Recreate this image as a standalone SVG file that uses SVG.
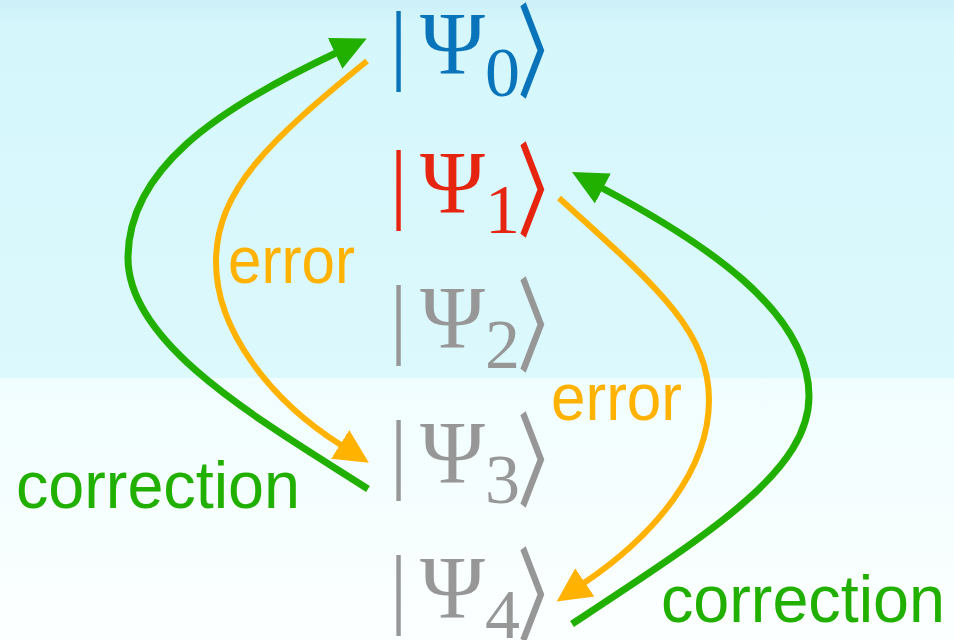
<svg xmlns="http://www.w3.org/2000/svg" width="954" height="640" viewBox="0 0 954 640">
<defs>
<linearGradient id="bgTop" x1="0" y1="0" x2="0" y2="1">
<stop offset="0" stop-color="#cdf0f9"/>
<stop offset="0.07" stop-color="#d5f7fc"/>
<stop offset="1" stop-color="#dcf9fd"/>
</linearGradient>
<linearGradient id="bgBot" x1="0" y1="0" x2="0" y2="1">
<stop offset="0" stop-color="#f0fdfe"/>
<stop offset="1" stop-color="#fcffff"/>
</linearGradient>
<marker id="hG" markerUnits="userSpaceOnUse" markerWidth="36" markerHeight="36" refX="1" refY="17" orient="auto" viewBox="0 0 36 34">
<path d="M0,0 L35,17 L0,34 z" fill="#22b000"/>
</marker>
<marker id="hO" markerUnits="userSpaceOnUse" markerWidth="36" markerHeight="36" refX="1" refY="17" orient="auto" viewBox="0 0 36 34">
<path d="M0,0 L34,17 L0,34 z" fill="#ffb200"/>
</marker>
<style>
.ket{fill:currentColor}
.bar{font-family:"Liberation Serif",serif;font-size:88px;text-anchor:middle}
.psi{font-family:"Liberation Serif",serif;font-size:88px}
.sub{font-family:"Liberation Serif",serif;font-size:70px}
.ang{font-family:"Noto Sans CJK JP","DejaVu Sans",sans-serif;font-size:86px;stroke:currentColor;stroke-width:2.4;stroke-linejoin:miter}
.lbl{font-family:"Liberation Sans",Arial,sans-serif;font-size:66px}
.err{fill:#ffb200}
.cor{fill:#22b000}
.g{fill:none;stroke:#22b000;stroke-width:7}
.o{fill:none;stroke:#ffb200;stroke-width:6}
</style>
</defs>
<rect x="0" y="0" width="954" height="380" fill="url(#bgTop)"/>
<rect x="0" y="378" width="954" height="262" fill="url(#bgBot)"/>

<g id="ket0" class="ket" color="#0a74ba">
<text class="bar" x="398.5" y="73">|</text>
<text class="psi" x="420" y="73">Ψ</text>
<text class="sub" x="485" y="96">0</text>
<text class="ang" x="512" y="85" transform="translate(532.5,52.5) scale(0.7,1.16) translate(-532,-54)">〉</text>
</g>
<g id="ket1" class="ket" color="#e62511" transform="translate(0,139)">
<text class="bar" x="398.5" y="73">|</text>
<text class="psi" x="420" y="73">Ψ</text>
<text class="sub" x="485" y="94">1</text>
<text class="ang" x="512" y="85" transform="translate(532.5,52.5) scale(0.7,1.16) translate(-532,-54)">〉</text>
</g>
<g id="ket2" class="ket" color="#979797" transform="translate(0,274)">
<text class="bar" x="398.5" y="73">|</text>
<text class="psi" x="420" y="73">Ψ</text>
<text class="sub" x="485" y="94">2</text>
<text class="ang" x="512" y="85" transform="translate(532.5,52.5) scale(0.7,1.16) translate(-532,-54)">〉</text>
</g>
<g id="ket3" class="ket" color="#979797" transform="translate(0,409)">
<text class="bar" x="398.5" y="73">|</text>
<text class="psi" x="420" y="73">Ψ</text>
<text class="sub" x="485" y="94">3</text>
<text class="ang" x="512" y="85" transform="translate(532.5,52.5) scale(0.7,1.16) translate(-532,-54)">〉</text>
</g>
<g id="ket4" class="ket" color="#979797" transform="translate(0,544)">
<text class="bar" x="398.5" y="73">|</text>
<text class="psi" x="420" y="73">Ψ</text>
<text class="sub" x="485" y="94">4</text>
<text class="ang" x="512" y="85" transform="translate(532.5,52.5) scale(0.7,1.16) translate(-532,-54)">〉</text>
</g>

<g id="connectors">
<path class="g" d="M368,489 C260,420 128,345 128,258 C128,170 215,110 336,53" marker-end="url(#hG)"/>
<path class="o" d="M367,61 C270,140 216,190 216,262 C216,330 270,400 341,445" marker-end="url(#hO)"/>
<path class="o" d="M559,198 C655,285 709,330 709,400 C709,470 655,535 584,583" marker-end="url(#hO)"/>
<path class="g" d="M572,624 C715,530 809,470 809,396 C809,310 700,240 602,188" marker-end="url(#hG)"/>
</g>

<g id="labels">
<text class="lbl err" x="228" y="283" textLength="127" lengthAdjust="spacingAndGlyphs">error</text>
<text class="lbl err" x="551" y="420" textLength="131" lengthAdjust="spacingAndGlyphs">error</text>
<text class="lbl cor" x="16" y="508" textLength="284" lengthAdjust="spacingAndGlyphs">correction</text>
<text class="lbl cor" x="661" y="622" textLength="284" lengthAdjust="spacingAndGlyphs">correction</text>
</g>
</svg>
